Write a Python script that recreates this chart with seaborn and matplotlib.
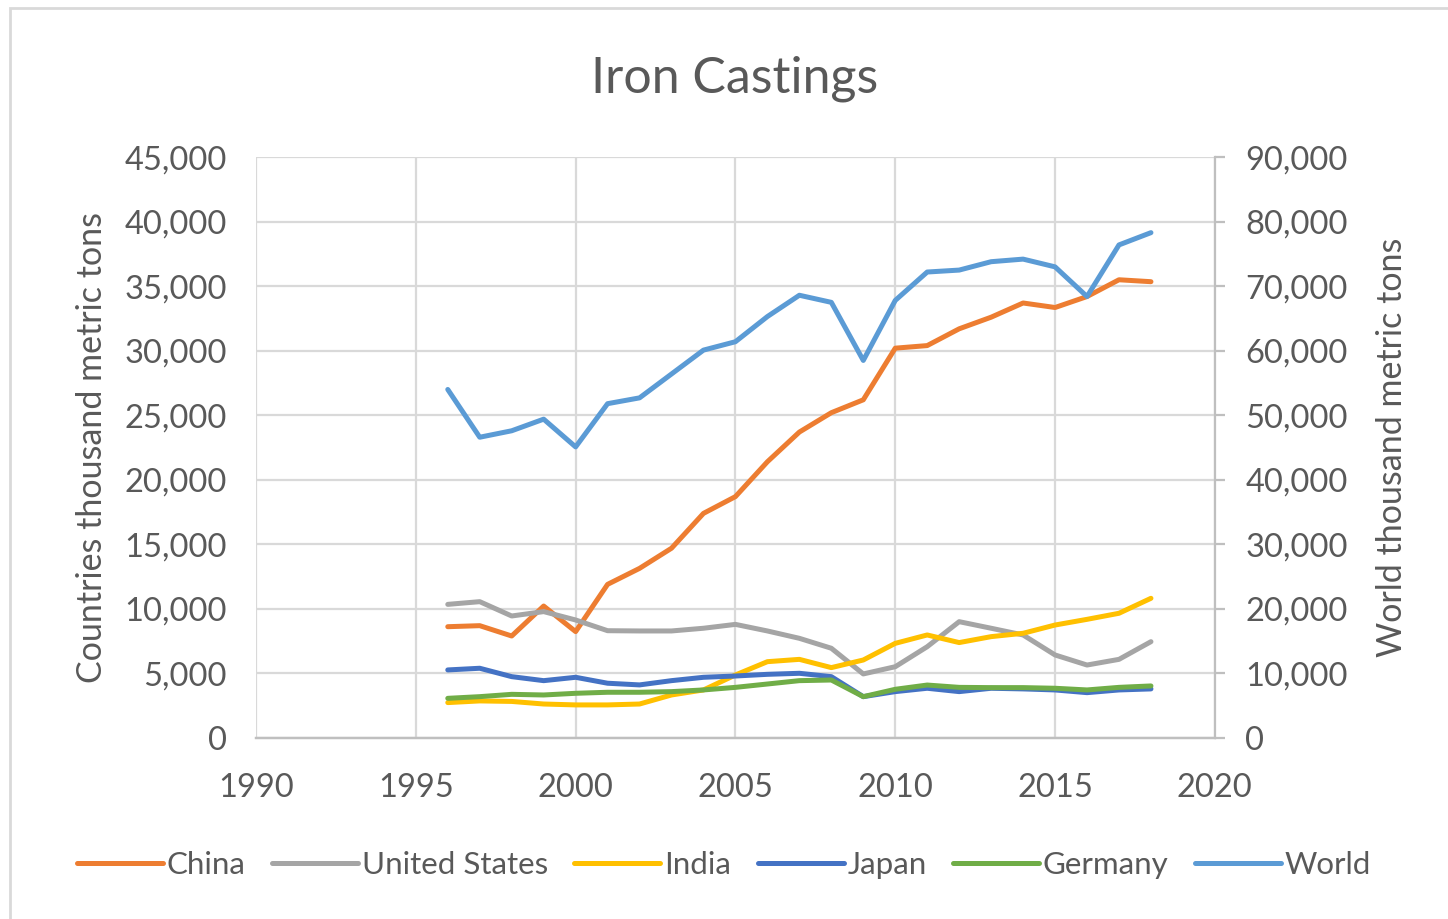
import pandas as pd
import matplotlib.pyplot as plt
import matplotlib.ticker as mticker
from matplotlib.patches import Rectangle
import seaborn as sns

years = list(range(1996, 2019))

china = [8620, 8700, 7900, 10220, 8240, 11900, 13140, 14700, 17400, 18700, 21400, 23700,
         25200, 26200, 30200, 30400, 31700, 32600, 33700, 33350, 34200, 35500, 35350]
united_states = [10350, 10560, 9450, 9790, 9140, 8310, 8290, 8290, 8500, 8800, 8290, 7720,
                 6950, 4960, 5520, 7070, 9010, 8500, 7980, 6430, 5650, 6090, 7460]
india = [2740, 2870, 2830, 2630, 2560, 2560, 2630, 3330, 3720, 4880, 5910, 6090,
         5450, 6040, 7330, 7980, 7390, 7850, 8110, 8750, 9190, 9660, 10820]
japan = [5270, 5400, 4750, 4440, 4700, 4240, 4110, 4440, 4700, 4800, 4930, 5010,
         4750, 3200, 3590, 3850, 3590, 3850, 3800, 3720, 3510, 3720, 3800]
germany = [3070, 3200, 3380, 3330, 3460, 3540, 3540, 3590, 3720, 3920, 4180, 4440,
           4490, 3200, 3770, 4100, 3920, 3900, 3900, 3850, 3720, 3920, 4030]
world = [54000, 46600, 47600, 49400, 45100, 51800, 52700, 56400, 60100, 61400, 65300, 68600,
         67500, 58500, 67800, 72200, 72500, 73800, 74200, 73000, 68400, 76400, 78300]

countries = ["China", "United States", "India", "Japan", "Germany"]
colors = {"China": "#ED7D31", "United States": "#A5A5A5", "India": "#FFC000",
          "Japan": "#4472C4", "Germany": "#70AD47", "World": "#5B9BD5"}

df = pd.DataFrame({"Year": years, "China": china, "United States": united_states,
                   "India": india, "Japan": japan, "Germany": germany})
long_df = df.melt(id_vars="Year", var_name="Country", value_name="Tons")
world_df = pd.DataFrame({"Year": years, "World": world})

sns.set_theme(style="white")
plt.rcParams["font.family"] = ["Lato", "DejaVu Sans"]
text_col = "#595959"
grid_col = "#D9D9D9"

fig = plt.figure(figsize=(14.48, 9.19), dpi=100)
ax = fig.add_axes([0.1768, 0.197, 0.8390 - 0.1768, 0.829 - 0.197])
ax2 = ax.twinx()

#Countries on left axis
sns.lineplot(data=long_df, x="Year", y="Tons", hue="Country", hue_order=countries,
             palette=colors, linewidth=3.6, ax=ax, legend=False)
#World on right axis
sns.lineplot(data=world_df, x="Year", y="World", color=colors["World"], linewidth=3.6,
             ax=ax2, legend=False)
for line in ax.lines + ax2.lines:
    line.set_solid_capstyle("round")
    line.set_solid_joinstyle("round")

ax.set_xlim(1990, 2020)
ax.set_ylim(0, 45000)
ax2.set_ylim(0, 90000)
ax.xaxis.set_major_locator(mticker.MultipleLocator(5))
ax.yaxis.set_major_locator(mticker.MultipleLocator(5000))
ax2.yaxis.set_major_locator(mticker.MultipleLocator(10000))
fmt = mticker.FuncFormatter(lambda v, p: f"{int(v):,}")
ax.yaxis.set_major_formatter(fmt)
ax2.yaxis.set_major_formatter(fmt)

ax.grid(True, color=grid_col, linewidth=1.6)
ax2.grid(False)
ax.set_axisbelow(True)
for a in (ax, ax2):
    for s in ("top", "left"):
        a.spines[s].set_visible(False)
    a.spines["bottom"].set_color("#BFBFBF")
    a.spines["bottom"].set_linewidth(1.6)
    a.spines["right"].set_color("#BFBFBF")
    a.spines["right"].set_linewidth(1.6)
ax.spines["right"].set_visible(False)

ax.tick_params(axis="y", labelsize=23.5, labelcolor=text_col, length=0, pad=21)
ax.tick_params(axis="x", labelsize=23.5, labelcolor=text_col, length=0, pad=25)
ax2.tick_params(axis="y", labelsize=23.5, labelcolor=text_col, length=7, color="#BFBFBF",
                width=1.6, pad=15)

ax.set_xlabel("")
ax.set_ylabel("Countries thousand metric tons", fontsize=24.5, color=text_col, labelpad=12)
ax2.set_ylabel("World thousand metric tons", fontsize=24.5, color=text_col, labelpad=20)
fig.suptitle("Iron Castings", fontsize=36, color=text_col, x=0.507, y=0.94)

handles = ax.lines[:5] + ax2.lines[:1]
labels = countries + ["World"]
fig.legend(handles, labels, loc="center", bbox_to_anchor=(0.5, 0.059), ncol=6, frameon=False,
           fontsize=22.5, labelcolor=text_col, handlelength=2.75, handletextpad=0.12,
           columnspacing=0.85)

fig.patches.append(Rectangle((10 / 1448, -0.01), 1.1, 1 - 8 / 919 + 0.01, transform=fig.transFigure,
                             fill=False, edgecolor=grid_col, linewidth=2))

plt.savefig("out.png", dpi=100)
